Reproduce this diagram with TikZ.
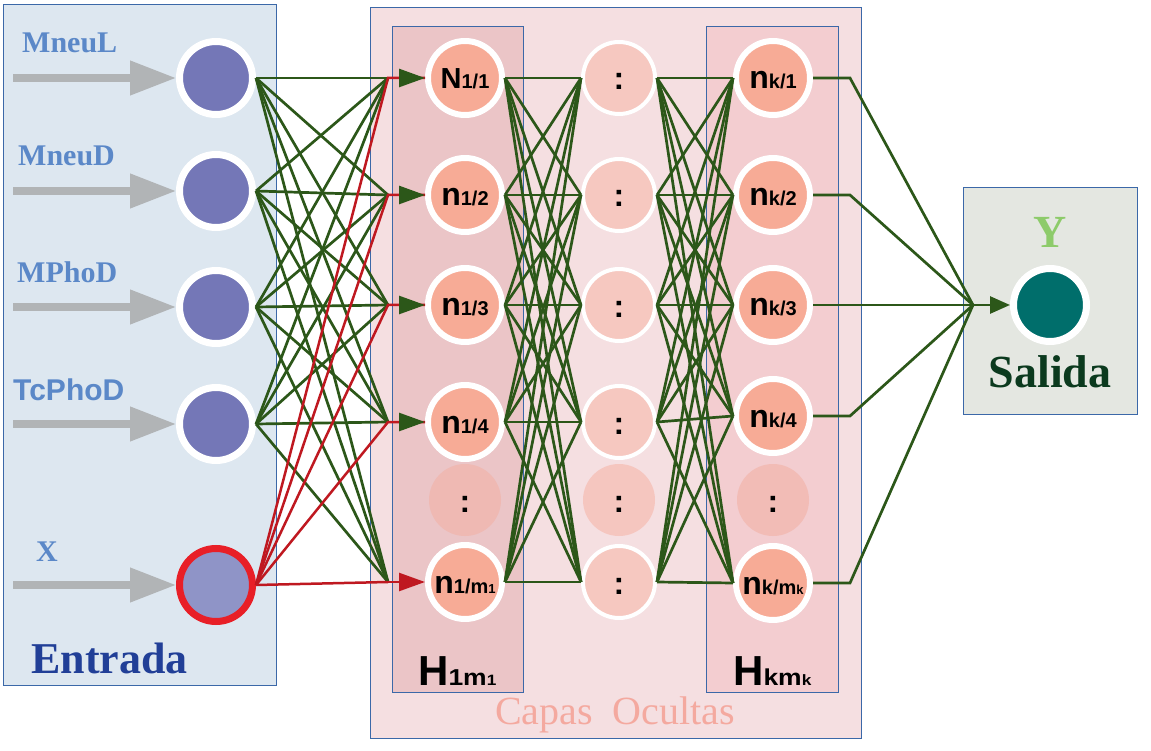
\documentclass[tikz,border=0pt]{standalone}
\usepackage{fontspec}
\setmainfont{Liberation Serif}
\setsansfont{Liberation Sans}
\newfontfamily\widesans{Liberation Sans}[FakeStretch=1.15]
\usetikzlibrary{arrows.meta}
\definecolor{boxblue}{HTML}{3B68A8}
\definecolor{entfill}{HTML}{DDE7F0}
\definecolor{capfill}{HTML}{F5DFE1}
\definecolor{hafill}{HTML}{EBC5C7}
\definecolor{hkfill}{HTML}{F3CDD0}
\definecolor{salfill}{HTML}{E4E7E1}
\definecolor{salmonc}{HTML}{F7AB96}
\definecolor{midpink}{HTML}{F6C8C0}
\definecolor{dota}{HTML}{EFB9B3}
\definecolor{dotm}{HTML}{F5C6BF}
\definecolor{dotk}{HTML}{F2BCB6}
\definecolor{inblue}{HTML}{7477B7}
\definecolor{xblue}{HTML}{8F94C7}
\definecolor{xred}{HTML}{E81F27}
\definecolor{outteal}{HTML}{006E6B}
\definecolor{lgreen}{HTML}{2C5719}
\definecolor{lred}{HTML}{BF1820}
\definecolor{labblue}{HTML}{5B88C8}
\definecolor{entblue}{HTML}{213F97}
\definecolor{grayarr}{HTML}{B1B4B6}
\definecolor{ygreen}{HTML}{8DCB6A}
\definecolor{saldark}{HTML}{0B3A1E}
\definecolor{capsal}{HTML}{F4A99F}
\begin{document}
\begin{tikzpicture}[x=1pt,y=-1pt,
  box/.style={draw=boxblue, line width=1},
  inn/.style={circle, fill=inblue, draw=white, line width=7, minimum size=73, inner sep=0},
  hid/.style={circle, fill=salmonc, draw=white, line width=6, minimum size=74, inner sep=0,
    font=\sffamily\bfseries, text height=22, text depth=0},
  mid/.style={circle, fill=midpink, draw=white, line width=4, minimum size=72, inner sep=0,
    font=\sffamily\bfseries\fontsize{32}{32}\selectfont, text height=24, text depth=0},
  dotn/.style={circle, minimum size=72, inner sep=0,
    font=\sffamily\bfseries\fontsize{32}{32}\selectfont, text height=24, text depth=0},
  gline/.style={draw=lgreen, line width=2.7},
  rline/.style={draw=lred, line width=2.5},
  gtip/.style={-{Triangle[length=26pt,width=18pt]}},
  grayarrow/.style={draw=grayarr, fill=grayarr, line width=7.5, -{Triangle[length=46pt,width=33pt]}},
  lab/.style={anchor=base west, inner sep=0, text=labblue, font=\bfseries\fontsize{30}{30}\selectfont}
]
\useasboundingbox (0,0) rectangle (1151,751);
% boxes
\draw[box, fill=entfill] (3,5) rectangle (276,685);
\draw[box, fill=capfill] (370,8) rectangle (861,738);
\draw[box, fill=hafill] (392,27) rectangle (523,692);
\draw[box, fill=hkfill] (706,27) rectangle (838,692);
\draw[box, fill=salfill] (963,188) rectangle (1137,414);

% input nodes
\foreach \i/\y in {1/78,2/191,3/307,4/424} \node[inn] (i\i) at (216,\y) {};
\node[inn, fill=xblue, draw=xred] (i5) at (216,585) {};

% hidden layer 1
\node[hid] (h1) at (465,78) {{\fontsize{29}{29}\selectfont N}{\fontsize{20}{20}\selectfont 1/1}};
\node[hid] (h2) at (465,195) {{\fontsize{32}{32}\selectfont n}{\fontsize{20}{20}\selectfont 1/2}};
\node[hid] (h3) at (465,305) {{\fontsize{32}{32}\selectfont n}{\fontsize{20}{20}\selectfont 1/3}};
\node[hid] (h4) at (465,422) {{\fontsize{32}{32}\selectfont n}{\fontsize{20}{20}\selectfont 1/4}};
\node[dotn, fill=dota] (hd) at (465,500) {:};
\node[hid] (h5) at (465,582) {{\fontsize{32}{32}\selectfont n}{\fontsize{20}{20}\selectfont 1/m}{\fontsize{13}{13}\selectfont 1}};

% middle column
\foreach \i/\y in {1/78,2/195,3/305,4/422,5/582} \node[mid] (m\i) at (619,\y) {:};
\node[dotn, fill=dotm] (md) at (619,500) {:};

% hidden layer k
\node[hid] (k1) at (773,78) {{\fontsize{32}{32}\selectfont n}{\fontsize{20}{20}\selectfont k/1}};
\node[hid] (k2) at (773,195) {{\fontsize{32}{32}\selectfont n}{\fontsize{20}{20}\selectfont k/2}};
\node[hid] (k3) at (773,305) {{\fontsize{32}{32}\selectfont n}{\fontsize{20}{20}\selectfont k/3}};
\node[hid] (k4) at (773,416) {{\fontsize{32}{32}\selectfont n}{\fontsize{20}{20}\selectfont k/4}};
\node[dotn, fill=dotk] (kd) at (773,500) {:};
\node[hid] (k5) at (773,583) {{\fontsize{32}{32}\selectfont n}{\fontsize{20}{20}\selectfont k/m}{\fontsize{13}{13}\selectfont k}};

% output
\node[inn, fill=outteal] (o) at (1050,305) {};

% coordinates
\foreach \j/\y in {1/78,2/195,3/305,4/422,5/582} \coordinate (c\j) at (388,\y);
\foreach \j/\y in {1/78,2/195,3/305,4/416,5/583} \coordinate (b\j) at (850,\y);
\coordinate (co) at (973,305);
\foreach \i/\y in {1/78,2/191,3/307,4/424,5/585} \coordinate (g\i) at (13,\y);

% gray input arrows
\foreach \i in {1,...,5} \draw[grayarrow] (g\i) -- (i\i.west);

% input -> layer 1
\foreach \i in {1,...,4} \foreach \j in {1,...,5} \draw[gline] (i\i.east) -- (c\j);
\foreach \j in {1,...,4} \draw[gline] (c\j) -- (h\j.west);
\foreach \j in {1,...,4} \draw[rline] (i5.east) -- (c\j) -- (h\j.west);
\foreach \j in {1,...,4} \draw[gline, gtip] ([xshift=-26pt]h\j.west) -- (h\j.west);
\draw[rline] (i5.east) -- (c5);
\draw[rline, gtip] (c5) -- (h5.west);

% layer 1 -> middle -> layer k
\foreach \i in {1,...,5} \foreach \j in {1,...,5} \draw[gline] (h\i.east) -- (m\j.west);
\foreach \i in {1,...,5} \foreach \j in {1,...,5} \draw[gline] (m\i.east) -- (k\j.west);

% layer k -> output
\foreach \j in {1,2,4,5} \draw[gline] (k\j.east) -- (b\j) -- (co);
\draw[gline] (k3.east) -- (co);
\draw[gline, -{Triangle[length=20pt,width=17pt]}] (co) -- (o.west);

% labels
\node[lab] (lMneuL) at (22,53) {MneuL};
\node[lab] (lMneuD) at (18,166) {MneuD};
\node[lab] (lMPhoD) at (17,283) {MPhoD};
\node[lab, font=\sffamily\bfseries\fontsize{30}{30}\selectfont] (lTc) at (13,400) {TcPhoD};
\node[lab] (lX) at (36,561) {X};
\node[anchor=base west, inner sep=0, text=entblue, font=\bfseries\fontsize{44}{44}\selectfont] (lEnt) at (31,673) {Entrada};
\node[anchor=base, inner sep=0, text=ygreen, font=\bfseries\fontsize{46}{46}\selectfont] (lY) at (1050,248) {Y};
\node[anchor=base, inner sep=0, text=saldark, font=\bfseries\fontsize{46}{46}\selectfont] (lSal) at (1050,387) {Salida};
\node[anchor=base, inner sep=0, text=capsal, font=\fontsize{40}{40}\selectfont] (lCap) at (615,724) {Capas~~Ocultas};
\node[anchor=base west, inner sep=0, font=\sffamily\bfseries] (lH1) at (418,685)
  {{\fontsize{42}{42}\selectfont H}{\widesans\fontsize{23}{23}\selectfont 1m}{\widesans\fontsize{15}{15}\selectfont 1}};
\node[anchor=base west, inner sep=0, font=\sffamily\bfseries] (lHk) at (733,685)
  {{\fontsize{42}{42}\selectfont H}{\widesans\fontsize{23}{23}\selectfont km}{\widesans\fontsize{15}{15}\selectfont k}};
\end{tikzpicture}
\end{document}
